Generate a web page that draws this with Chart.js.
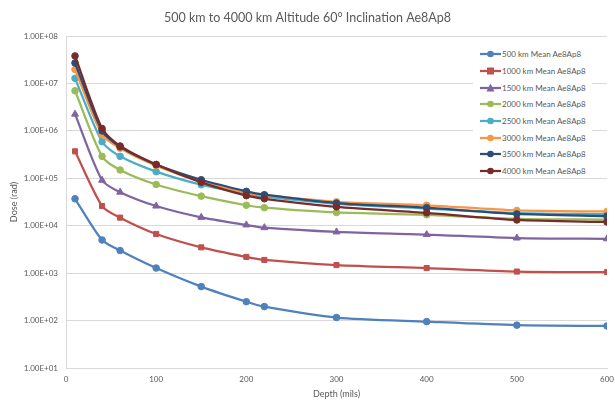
<!DOCTYPE html>
<html>
<head>
<meta charset="utf-8">
<script src="https://cdn.jsdelivr.net/npm/chart.js@4.4.1/dist/chart.umd.min.js"></script>
<style>
  html, body { margin: 0; padding: 0; background: #fff; }
  #wrap { position: relative; width: 615px; height: 400px; }
  #legend { position: absolute; left: 473px; top: 46px; width: 119px; height: 132px; background: #fff;
            font-family: Lato, "Open Sans", sans-serif; font-size: 8px; color: #595959; }
  .item { position: absolute; left: 7px; height: 12px; display: flex; align-items: center; white-space: nowrap; }
  .item svg { margin-right: 1px; }
</style>
</head>
<body>
<div id="wrap">
  <canvas id="c" width="615" height="400"></canvas>
  <div id="legend"></div>
</div>
<script>
const depths = [10, 40, 60, 100, 150, 200, 220, 300, 400, 500, 600];
const seriesNames = ["500 km Mean Ae8Ap8", "1000 km Mean Ae8Ap8", "1500 km Mean Ae8Ap8", "2000 km Mean Ae8Ap8",
                     "2500 km Mean Ae8Ap8", "3000 km Mean Ae8Ap8", "3500 km Mean Ae8Ap8", "4000 km Mean Ae8Ap8"];
const s500  = [3.7e4, 5.0e3, 3.0e3, 1.28e3, 5.2e2, 2.5e2, 1.97e2, 1.16e2, 95, 80, 77];
const s1000 = [3.7e5, 2.6e4, 1.48e4, 6.7e3, 3.5e3, 2.2e3, 1.9e3, 1.48e3, 1.28e3, 1.08e3, 1.05e3];
const s1500 = [2.25e6, 9.1e4, 5.1e4, 2.6e4, 1.5e4, 1.04e4, 9.1e3, 7.4e3, 6.5e3, 5.5e3, 5.3e3];
const s2000 = [7.0e6, 2.9e5, 1.5e5, 7.4e4, 4.2e4, 2.7e4, 2.4e4, 1.9e4, 1.7e4, 1.4e4, 1.35e4];
const s2500 = [1.28e7, 5.9e5, 2.9e5, 1.38e5, 7.3e4, 4.7e4, 4.1e4, 2.9e4, 2.3e4, 1.85e4, 1.75e4];
const s3000 = [1.97e7, 8.3e5, 4.3e5, 1.85e5, 8.6e4, 5.0e4, 4.4e4, 3.2e4, 2.7e4, 2.1e4, 2.0e4];
const s3500 = [2.7e7, 1.0e6, 4.6e5, 1.95e5, 9.3e4, 5.3e4, 4.5e4, 3.0e4, 2.4e4, 1.77e4, 1.6e4];
const s4000 = [3.8e7, 1.12e6, 4.8e5, 1.95e5, 8.2e4, 4.3e4, 3.7e4, 2.5e4, 1.87e4, 1.32e4, 1.2e4];
const yTickValues = [1e1, 1e2, 1e3, 1e4, 1e5, 1e6, 1e7, 1e8];
const xTickValues = [0, 100, 200, 300, 400, 500, 600];

const allSeries = [s500, s1000, s1500, s2000, s2500, s3000, s3500, s4000];
const colors = ["#4F81BD", "#C0504D", "#8064A2", "#9BBB59", "#4BACC6", "#F79646", "#2C4D75", "#772C2A"];
const markers = ["circle", "rect", "triangle", "circle", "circle", "circle", "circle", "circle"];
const textColor = "#595959";
const fontFam = "Lato, 'Open Sans', sans-serif";

const datasets = allSeries.map((vals, i) => ({
  label: seriesNames[i],
  data: vals.map((v, j) => ({ x: depths[j], y: v })),
  borderColor: colors[i],
  backgroundColor: colors[i],
  borderWidth: 2.25,
  pointStyle: markers[i],
  pointRadius: markers[i] === "triangle" ? 4 : (markers[i] === "rect" ? 3.6 : 3.3),
  pointBorderWidth: 1,
  tension: 0.25,
  order: 8 - i
}));

new Chart(document.getElementById("c"), {
  type: "line",
  data: { datasets },
  options: {
    responsive: false,
    animation: false,
    devicePixelRatio: 1,
    layout: { padding: { left: 0, right: 0, top: 0, bottom: 0 } },
    plugins: {
      legend: { display: false },
      tooltip: { enabled: false },
      title: {
        display: true,
        text: "500 km to 4000 km Altitude 60° Inclination Ae8Ap8",
        color: textColor,
        font: { family: fontFam, size: 12.5, weight: "normal", lineHeight: 1.2 },
        padding: { top: 10, bottom: 11 }
      }
    },
    scales: {
      x: {
        type: "linear",
        min: 0, max: 600,
        afterBuildTicks: (s) => { s.ticks = xTickValues.map(v => ({ value: v })); },
        afterFit: (s) => { s.height = 32; s.paddingRight = 8; s.paddingLeft = 0; },
        grid: { display: false, drawTicks: false },
        border: { display: true, color: "#D9D9D9", width: 1 },
        ticks: { color: textColor, font: { family: fontFam, size: 8 }, padding: 7, maxRotation: 0 },
        title: { display: true, text: "Depth (mils)", color: textColor,
                 font: { family: fontFam, size: 9 }, padding: { top: 0, bottom: 0.6 } }
      },
      y: {
        type: "logarithmic",
        min: 10, max: 1e8,
        afterBuildTicks: (s) => { s.ticks = yTickValues.map(v => ({ value: v })); },
        afterFit: (s) => { s.width = 66; s.paddingTop = 0; s.paddingBottom = 0; },
        grid: { color: "#D9D9D9", lineWidth: 1, drawTicks: false },
        border: { display: true, color: "#D9D9D9", width: 1 },
        ticks: {
          color: textColor, font: { family: fontFam, size: 8 }, padding: 8,
          callback: (v) => {
            const e = Math.round(Math.log10(v));
            return "1.00E+" + (e < 10 ? "0" + e : e);
          }
        },
        title: { display: true, text: "Dose (rad)", color: textColor,
                 font: { family: fontFam, size: 9 }, padding: { top: 8.6, bottom: 0 } }
      }
    }
  }
});

// HTML legend
const legend = document.getElementById("legend");
const rowTops = [2, 19, 36, 52, 69, 86, 102, 119];
seriesNames.forEach((name, i) => {
  const d = document.createElement("div");
  d.className = "item";
  d.style.top = rowTops[i] + "px";
  let mk;
  if (markers[i] === "rect") mk = `<rect x="7" y="2.5" width="7" height="7" fill="${colors[i]}"/>`;
  else if (markers[i] === "triangle") mk = `<polygon points="10.5,1.5 14.5,9.5 6.5,9.5" fill="${colors[i]}"/>`;
  else mk = `<circle cx="10.5" cy="6" r="3.3" fill="${colors[i]}"/>`;
  d.innerHTML = `<svg width="21" height="12"><line x1="0" y1="6" x2="21" y2="6" stroke="${colors[i]}" stroke-width="2.25"/>${mk}</svg><span>${name}</span>`;
  legend.appendChild(d);
});
</script>
</body>
</html>
